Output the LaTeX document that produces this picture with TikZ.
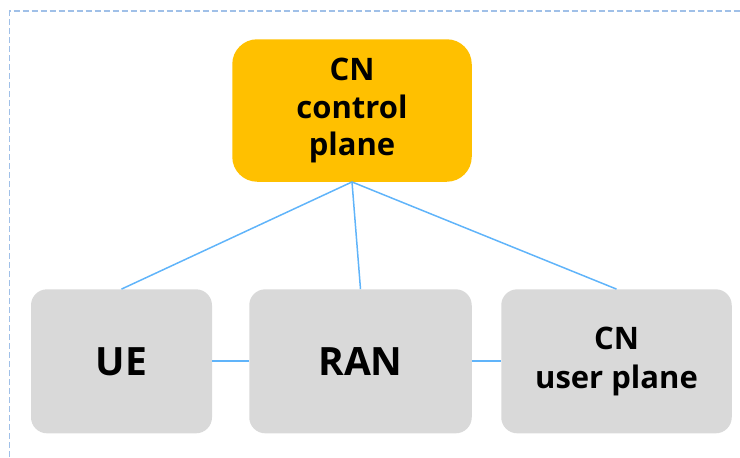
\documentclass[tikz,border=0pt]{standalone}
\usepackage{fontspec}
\setmainfont{Open Sans}
\definecolor{cpfill}{HTML}{FFC000}
\definecolor{boxfill}{HTML}{D9D9D9}
\definecolor{linkblue}{RGB}{96,180,250}
\definecolor{frameblue}{RGB}{160,192,232}
\tikzset{
  plane/.style={draw=none, fill=cpfill, rounded corners=25pt, align=center,
    font=\bfseries\fontsize{31}{37.5}\selectfont, inner sep=0pt},
  elem/.style={draw=none, fill=boxfill, rounded corners=16pt, align=center,
    minimum height=144pt, inner sep=0pt},
  bigtext/.style={font=\bfseries\fontsize{39}{44}\selectfont},
  smalltext/.style={font=\bfseries\fontsize{31}{38.5}\selectfont},
  link/.style={draw=linkblue, line width=1.5pt},
  datalink/.style={draw=linkblue, line width=2pt},
  frame/.style={draw=frameblue, line width=1.5pt, dash pattern=on 6pt off 3pt}
}
\begin{document}
\begin{tikzpicture}[x=1pt, y=-1pt]
\useasboundingbox (0,0) rectangle (740,458);
% outer dashed frame
\draw[frame] (9.5,520) |- (800,11);
% control plane on top
\node[plane, minimum width=239.5pt, minimum height=142.5pt] (cp) at (352,110.5)
  {CN\\control\\plane};
% user-side elements
\node[elem, bigtext, minimum width=181pt] (ue) at (121.5,361.3) {UE};
\node[elem, bigtext, minimum width=222.5pt] (ran) at (360.5,361.3) {RAN};
\node[elem, smalltext, minimum width=230.5pt] (up) at (616.5,361.3) {CN\\user plane};
% signalling links
\draw[link] (cp.south) -- (ue.north);
\draw[link] (cp.south) -- (ran.north);
\draw[link] (cp.south) -- (up.north);
% data path
\draw[datalink] (ue.east) -- (ran.west);
\draw[datalink] (ran.east) -- (up.west);
\end{tikzpicture}
\end{document}
